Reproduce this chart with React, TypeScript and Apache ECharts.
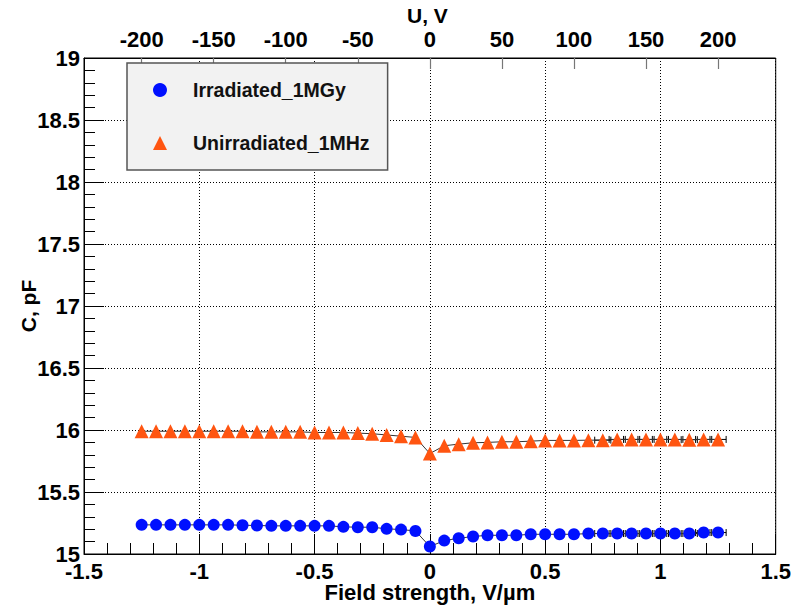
import React, { useEffect, useRef } from "react";
import * as echarts from "echarts";

const fieldStrength = [
  -1.25, -1.1875, -1.125, -1.0625, -1, -0.9375, -0.875, -0.8125, -0.75, -0.6875,
  -0.625, -0.5625, -0.5, -0.4375, -0.375, -0.3125, -0.25, -0.1875, -0.125, -0.0625,
  0,
  0.0625, 0.125, 0.1875, 0.25, 0.3125, 0.375, 0.4375, 0.5, 0.5625, 0.625,
  0.6875, 0.75, 0.8125, 0.875, 0.9375, 1, 1.0625, 1.125, 1.1875, 1.25,
];

const irradiated = [
  15.235, 15.235, 15.235, 15.235, 15.235, 15.235, 15.235, 15.232, 15.23, 15.227,
  15.227, 15.227, 15.227, 15.227, 15.219, 15.216, 15.216, 15.203, 15.197, 15.186,
  15.06,
  15.108, 15.127, 15.141, 15.151, 15.151, 15.151, 15.159, 15.159, 15.159, 15.159,
  15.165, 15.165, 15.165, 15.165, 15.165, 15.165, 15.165, 15.165, 15.173, 15.173,
];

const unirradiated = [
  15.99, 15.99, 15.99, 15.99, 15.99, 15.99, 15.99, 15.99, 15.985, 15.985,
  15.985, 15.985, 15.98, 15.98, 15.98, 15.975, 15.97, 15.96, 15.95, 15.94,
  15.81,
  15.873, 15.886, 15.897, 15.9, 15.905, 15.905, 15.91, 15.916, 15.916, 15.916,
  15.918, 15.918, 15.924, 15.924, 15.924, 15.924, 15.924, 15.922, 15.924, 15.924,
];

const fieldError = [
  0, 0, 0, 0, 0, 0, 0, 0, 0, 0,
  0, 0, 0, 0, 0, 0, 0, 0, 0, 0,
  0,
  0, 0, 0, 0, 0, 0, 0, 0, 0, 0,
  0, 0.035, 0.035, 0.035, 0.035, 0.035, 0.035, 0.035, 0.035, 0.035,
];

const voltageTicks = [-200, -150, -100, -50, 0, 50, 100, 150, 200];
const seriesNames = ["Irradiated_1MGy", "Unirradiated_1MHz"];
const thicknessUm = 160;

const FONT = "'Liberation Sans', Arial, Helvetica, sans-serif";
const BLUE = "#0010ff";
const ORANGE = "#ff5511";

export default function App() {
  const ref = useRef<HTMLDivElement>(null);

  useEffect(() => {
    if (!ref.current) return;
    const chart = echarts.init(ref.current, undefined, { renderer: "svg" });

    const blueData = fieldStrength.map((x, i) => [x, irradiated[i]]);
    const orangeData = fieldStrength.map((x, i) => [x, unirradiated[i]]);
    const blueErr = fieldStrength.map((x, i) => [x, irradiated[i], fieldError[i]]);
    const orangeErr = fieldStrength.map((x, i) => [x, unirradiated[i], fieldError[i]]);

    const errRender = (params: any, api: any) => {
      const x = api.value(0);
      const y = api.value(1);
      const e = api.value(2);
      if (!e) return null;
      const a = api.coord([x - e, y]);
      const b = api.coord([x + e, y]);
      const st = { stroke: "#000", lineWidth: 1 };
      return {
        type: "group",
        children: [
          { type: "line", shape: { x1: a[0], y1: a[1], x2: b[0], y2: b[1] }, style: st },
          { type: "line", shape: { x1: a[0], y1: a[1] - 3.5, x2: a[0], y2: a[1] + 3.5 }, style: st },
          { type: "line", shape: { x1: b[0], y1: b[1] - 3.5, x2: b[0], y2: b[1] + 3.5 }, style: st },
        ],
      };
    };

    const tickLabel = { fontFamily: FONT, fontWeight: "bold", fontSize: 22, color: "#000" };

    chart.setOption({
      animation: false,
      backgroundColor: "#fff",
      grid: {
        left: 84,
        top: 58,
        width: 693,
        height: 497,
        show: true,
        borderColor: "#000",
        borderWidth: 1,
        backgroundColor: "transparent",
      },
      legend: {
        left: 127,
        top: 63,
        orient: "vertical",
        backgroundColor: "#f2f2f2",
        borderColor: "#555",
        borderWidth: 1.5,
        borderRadius: 0,
        padding: [17, 18, 17, 26],
        itemWidth: 14,
        itemHeight: 14,
        itemGap: 33,
        symbolKeepAspect: true,
        formatter: (name: string) => `{t|${name}}`,
        data: [
          { name: seriesNames[0], icon: "circle", itemStyle: { color: BLUE } },
          { name: seriesNames[1], icon: "triangle", itemStyle: { color: ORANGE } },
        ],
        textStyle: {
          fontFamily: FONT,
          fontWeight: "bold",
          fontSize: 19.5,
          color: "#111",
          rich: {
            t: {
              fontFamily: FONT,
              fontWeight: "bold",
              fontSize: 19.5,
              color: "#111",
              padding: [0, 0, 0, 21],
            },
          },
        },
      },
      xAxis: [
        {
          type: "value",
          position: "bottom",
          min: -1.5,
          max: 1.5,
          interval: 0.5,
          name: "Field strength, V/\u00b5m",
          nameLocation: "middle",
          nameGap: 27,
          nameMoveOverlap: false,
          nameTextStyle: { fontFamily: FONT, fontWeight: "bold", fontSize: 22, color: "#000" },
          axisLine: { show: true, onZero: false, lineStyle: { color: "#000", width: 1 } },
          axisTick: { show: true, inside: true, length: 20, lineStyle: { color: "#000", width: 1 } },
          minorTick: { show: true, splitNumber: 5, length: 11, lineStyle: { color: "#000", width: 1 } },
          axisLabel: { ...tickLabel, margin: 6 },
          splitLine: { show: true, lineStyle: { color: "#000", width: 1, type: [1, 2] } },
        },
        {
          type: "value",
          position: "top",
          min: -1.5 * thicknessUm,
          max: 1.5 * thicknessUm,
          axisLine: { show: true, onZero: false, lineStyle: { color: "#000", width: 1 } },
          axisTick: {
            show: true,
            inside: true,
            length: 11,
            customValues: voltageTicks,
            lineStyle: { color: "#777", width: 1.2 },
          },
          axisLabel: { ...tickLabel, margin: 8, customValues: voltageTicks },
          splitLine: { show: false },
        },
      ],
      yAxis: {
        type: "value",
        min: 15,
        max: 19,
        interval: 0.5,
        name: "C, pF",
        nameLocation: "middle",
        nameGap: 45,
        nameMoveOverlap: false,
        nameRotate: 90,
        nameTextStyle: { fontFamily: FONT, fontWeight: "bold", fontSize: 21, color: "#000" },
        axisLine: { show: true, onZero: false, lineStyle: { color: "#000", width: 1 } },
        axisTick: { show: true, inside: true, length: 20, lineStyle: { color: "#000", width: 1 } },
        minorTick: { show: true, splitNumber: 5, length: 11, lineStyle: { color: "#000", width: 1 } },
        axisLabel: { ...tickLabel, margin: 4 },
        splitLine: { show: true, lineStyle: { color: "#000", width: 1, type: [1, 2] } },
      },
      graphic: [
        {
          type: "text",
          left: 407,
          top: 5,
          style: { text: "U, V", font: `bold 21px ${FONT}`, fill: "#000" },
        },
      ],
      series: [
        {
          type: "custom",
          name: "err1",
          xAxisIndex: 0,
          yAxisIndex: 0,
          renderItem: errRender,
          data: blueErr,
          encode: { x: 0, y: 1 },
          z: 1,
          silent: true,
        },
        {
          type: "custom",
          name: "err2",
          xAxisIndex: 0,
          yAxisIndex: 0,
          renderItem: errRender,
          data: orangeErr,
          encode: { x: 0, y: 1 },
          z: 1,
          silent: true,
        },
        {
          type: "line",
          name: seriesNames[0],
          xAxisIndex: 0,
          data: blueData,
          symbol: "circle",
          symbolSize: 12,
          showAllSymbol: true,
          itemStyle: { color: BLUE },
          lineStyle: { color: "#333", width: 1 },
          z: 3,
        },
        {
          type: "line",
          name: seriesNames[1],
          xAxisIndex: 0,
          data: orangeData,
          symbol: "triangle",
          symbolSize: 14,
          showAllSymbol: true,
          itemStyle: { color: ORANGE },
          lineStyle: { color: "#333", width: 1 },
          z: 3,
        },
      ],
    });

    return () => chart.dispose();
  }, []);

  return (
    <div
      ref={ref}
      style={{ position: "fixed", left: 0, top: 0, width: 794, height: 608 }}
    />
  );
}
